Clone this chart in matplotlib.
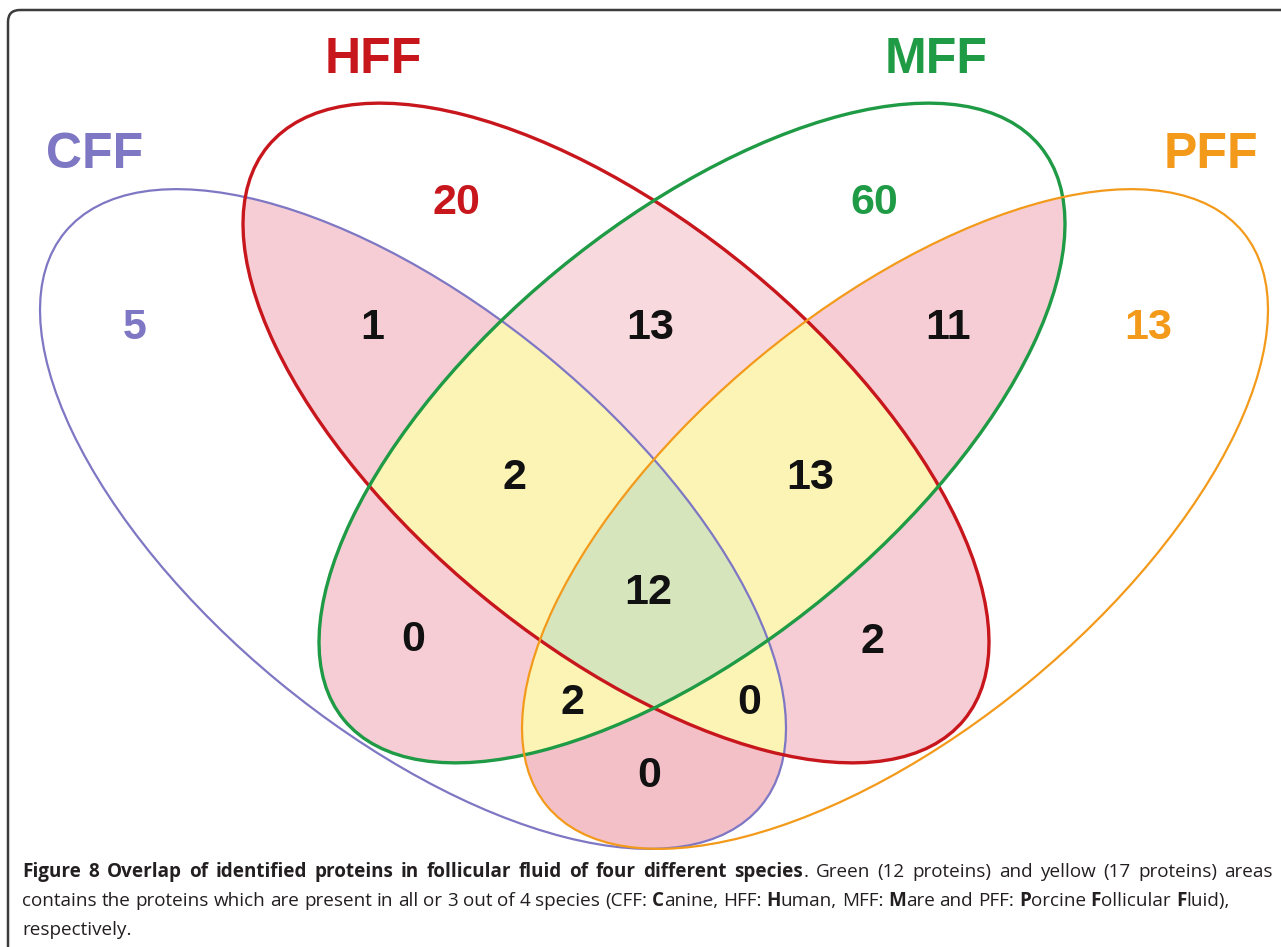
import numpy as np
import matplotlib.pyplot as plt
from matplotlib.patches import Ellipse, FancyBboxPatch

W, H = 1281, 947

# sets of the Venn diagram
set_names = ['CFF', 'HFF', 'MFF', 'PFF']
set_colors = ['#7e77c3', '#c8161d', '#1f9a45', '#f39a1b']

# region membership as (CFF, HFF, MFF, PFF) flags and protein counts
region_keys = ['1000', '0100', '0010', '0001', '1100', '0110', '0011',
               '1110', '0111', '1111', '1010', '0101', '1011', '1101', '1001']
region_counts = [5, 20, 60, 13, 1, 13, 11, 2, 13, 12, 0, 2, 2, 0, 0]

caption_lines = [
    [('Figure 8 Overlap of identified proteins in follicular fluid of four different species', True),
     ('. Green (12 proteins) and yellow (17 proteins) areas', False)],
    [('contains the proteins which are present in all or 3 out of 4 species (CFF: ', False),
     ('C', True), ('anine, HFF: ', False), ('H', True), ('uman, MFF: ', False), ('M', True),
     ('are and PFF: ', False), ('P', True), ('orcine ', False), ('F', True), ('ollicular ', False),
     ('F', True), ('luid),', False)],
    [('respectively.', False)],
]

# layout (pixel coordinates, y down)
centers = [(413, 519), (616, 433), (692, 433), (895, 519)]
angles = [39.5, 39.5, -39.5, -39.5]
semi_a, semi_b = 451, 211
line_w = [1.6, 2.4, 2.4, 1.6]
name_pos = [(95, 155), (373, 60), (936, 60), (1211, 155)]
count_pos = {'1000': (135, 328), '0100': (456, 203), '0010': (874, 203), '0001': (1148, 328),
             '1100': (372, 328), '0110': (650, 328), '0011': (948, 328),
             '1110': (515, 478), '0111': (810, 478), '1111': (648, 593),
             '1010': (413, 640), '0101': (873, 642), '1011': (572, 703), '1101': (749, 703),
             '1001': (649, 776)}
cap_font = 'Open Sans'

fig = plt.figure(figsize=(W / 100, H / 100), dpi=100)
ax = fig.add_axes([0, 0, 1, 1])
ax.set_xlim(0, W)
ax.set_ylim(H, 0)
ax.axis('off')

# region fills from a membership raster
xs = np.arange(0, W, 0.5) + 0.25
ys = np.arange(0, H, 0.5) + 0.25
X, Y = np.meshgrid(xs, ys)
inside = []
for (cx, cy), ang in zip(centers, angles):
    t = np.deg2rad(ang)
    dx, dy = X - cx, Y - cy
    u = dx * np.cos(t) + dy * np.sin(t)
    v = -dx * np.sin(t) + dy * np.cos(t)
    inside.append((u / semi_a) ** 2 + (v / semi_b) ** 2 <= 1)
inside = np.array(inside)
n_in = inside.sum(axis=0)

img = np.ones(X.shape + (4,))
img[..., 3] = 0


def paint(mask, hexcol):
    rgb = np.array([int(hexcol[i:i + 2], 16) / 255 for i in (1, 3, 5)])
    img[mask, :3] = rgb
    img[mask, 3] = 1


paint(n_in == 2, '#f6cdd5')
paint(inside[1] & inside[2] & (n_in == 2), '#f8d9de')
paint(inside[0] & inside[3] & (n_in == 2), '#f4c0c8')
paint(n_in == 3, '#fdf4b5')
paint(n_in == 4, '#d7e5bd')
ax.imshow(img, extent=(0, W, H, 0), origin='upper', interpolation='antialiased', zorder=1)

for (cx, cy), ang, col, lw in zip(centers, angles, set_colors, line_w):
    ax.add_patch(Ellipse((cx, cy), 2 * semi_a, 2 * semi_b, angle=ang, fill=False,
                         ec=col, lw=lw, zorder=3))

for name, col, (x, y) in zip(set_names, set_colors, name_pos):
    ax.text(x, y, name, color=col, fontsize=36, fontweight='bold', family='Liberation Sans',
            ha='center', va='center', zorder=4)

for key, cnt in zip(region_keys, region_counts):
    col = set_colors[key.index('1')] if key.count('1') == 1 else '#111111'
    x, y = count_pos[key]
    ax.text(x, y, str(cnt), color=col, fontsize=31, fontweight='bold', family='Liberation Sans',
            ha='center', va='center', zorder=4)

# frame
ax.add_patch(FancyBboxPatch((8, 10), 1400, 1000, boxstyle='round,pad=0,rounding_size=12',
                            fc='none', ec='#3c3c3c', lw=1.8, zorder=5))

# caption
renderer = fig.canvas.get_renderer()


def to_words(runs):
    words = [[]]
    for txt, bold in runs:
        parts = txt.split(' ')
        for i, p in enumerate(parts):
            if i > 0:
                words.append([])
            if p:
                words[-1].append((p, bold))
    return [w for w in words if w]


def width_of(s, bold, size):
    t = ax.text(0, 0, s, fontsize=size, fontweight='bold' if bold else 'normal', family=cap_font)
    w = t.get_window_extent(renderer).width
    t.remove()
    return w


def line_width(words, size):
    sp = width_of('x x', False, size) - width_of('xx', False, size)
    ws = [sum(width_of(s, b, size) for s, b in w) for w in words]
    return sum(ws) + sp * (len(words) - 1), ws, sp


base = 10.0
cap_words = [to_words(r) for r in caption_lines]
nat, _, _ = line_width(cap_words[1], base)
cap_size = base * (1226 - 22) / nat

left, right = 22, 1273
baselines = [877, 906, 935]
for li, (words, yb) in enumerate(zip(cap_words, baselines)):
    total, ws, sp = line_width(words, cap_size)
    gap = sp
    if li == 0:
        gap = (right - left - sum(ws)) / (len(words) - 1)
    x = left
    for w, wwid in zip(words, ws):
        xx = x
        for s, b in w:
            ax.text(xx, yb, s, fontsize=cap_size, fontweight='bold' if b else 'normal',
                    family=cap_font, color='#231f20', ha='left', va='baseline', zorder=6)
            xx += width_of(s, b, cap_size)
        x += wwid + gap

fig.savefig('out.png', dpi=100)
